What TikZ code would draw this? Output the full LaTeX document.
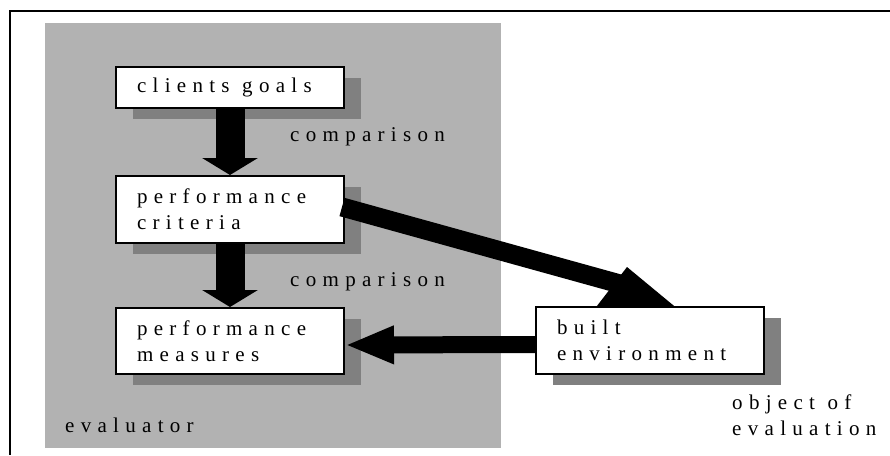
\documentclass[tikz,border=0pt]{standalone}
\usepackage{fontspec}
\setmainfont{Liberation Serif}
\newcommand{\evalfont}{\fontsize{21}{26}\selectfont}
\def\spcloop#1{\ifx\relax#1\else#1\kern0.3em\expandafter\spcloop\fi}
\newcommand{\spc}[1]{\spcloop#1\relax}
\newcommand{\wgap}{\hspace*{0.3em}}
\usepackage{tikz}
\usetikzlibrary{arrows.meta,shadows,calc}
\definecolor{evalgray}{gray}{0.70}
\definecolor{shadegray}{gray}{0.50}

\begin{document}
\begin{tikzpicture}[x=1pt,y=-1pt,
  box/.style={draw, line width=2pt, fill=white, anchor=north west, minimum width=228pt, text width=186pt, inner xsep=21pt, inner ysep=0pt, align=left, font=\evalfont, drop shadow={shadow xshift=17pt, shadow yshift=-11pt, fill=shadegray, opacity=1}},
  lbl/.style={anchor=base west, align=left, inner sep=0pt, font=\evalfont},
  vshaft/.style={line width=29pt, -{Triangle[width=55pt,length=17pt]}},
  hshaft/.style={line width=17pt, -{Triangle[width=35pt,length=49pt]}},
  dshaft/.style={line width=19pt}]
\useasboundingbox (0,0) rectangle (890,455);

%Evaluator
\fill[evalgray] (45,23) rectangle (501,448);

%Frame
\draw[line width=2pt] (890,11) -- (10,11) -- (10,455);

%Boxes
\node[box, minimum height=41pt] (goals) at (115,66) {\spc{clients}\wgap\spc{goals}};
\node[box, minimum height=67pt] (crit) at (115,175) {\spc{performance}\\\spc{criteria}};
\node[box, minimum height=66pt] (meas) at (115,307) {\spc{performance}\\\spc{measures}};

%Comparisons
\draw[vshaft] (goals.south) -- (crit.north);
\draw[vshaft] (crit.south) -- (meas.north);

%Criteria to object
\coordinate (dtail) at ([shift={(-3,-2.5)}]crit.east);
\coordinate (dhead) at ([shift={(85,-22)}]535,306);
\draw[dshaft] (dtail) -- (dhead);
\fill ([shift={(55,9)}]535,306) -- ([shift={(92,-39)}]535,306) -- ([shift={(150,9)}]535,306) -- cycle;

%Measures
\node[box, minimum height=67pt] (built) at (535,306) {\spc{built}\\\spc{environment}};
\draw[hshaft] ([yshift=-4pt]built.west) -- ([yshift=-4pt]meas.east);

%Labels
\node[lbl] (cmp1) at (290,141) {\spc{comparison}};
\node[lbl] (cmp2) at (290,286) {\spc{comparison}};
\node[lbl] (evaluator) at (65,432) {\spc{evaluator}};
\node[lbl, anchor=north west] (object) at (732,394.5) {\spc{object}\wgap\spc{of}\\\spc{evaluation}};
\end{tikzpicture}
\end{document}
